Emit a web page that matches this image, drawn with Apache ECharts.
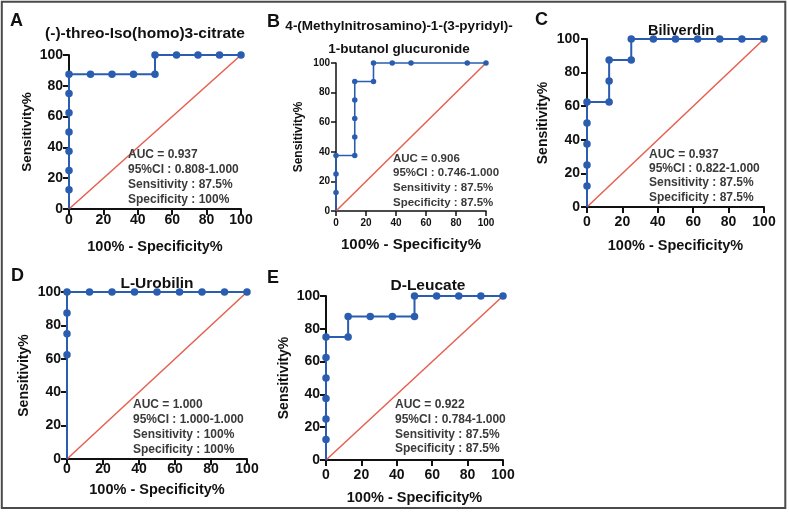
<!DOCTYPE html>
<html>
<head>
<meta charset="utf-8">
<script src="https://cdn.jsdelivr.net/npm/echarts@6/dist/echarts.min.js"></script>
<style>html,body{margin:0;padding:0;background:#fff}#c{width:789px;height:513px}</style>
</head>
<body>
<div id="c"></div>
<script>
// ---- data ----
const letters = ['A', 'B', 'C', 'D', 'E'];
const titles = ['(-)-threo-Iso(homo)3-citrate', '4-(Methylnitrosamino)-1-(3-pyridyl)-\n1-butanol glucuronide', 'Biliverdin', 'L-Urobilin', 'D-Leucate'];
const aucText = ['AUC = 0.937', 'AUC = 0.906', 'AUC = 0.937', 'AUC = 1.000', 'AUC = 0.922'];
const ciText = ['95%CI : 0.808-1.000', '95%CI : 0.746-1.000', '95%CI : 0.822-1.000', '95%CI : 1.000-1.000', '95%CI : 0.784-1.000'];
const sensText = ['Sensitivity : 87.5%', 'Sensitivity : 87.5%', 'Sensitivity : 87.5%', 'Sensitivity : 100%', 'Sensitivity : 87.5%'];
const specText = ['Specificity : 100%', 'Specificity : 87.5%', 'Specificity : 87.5%', 'Specificity : 100%', 'Specificity : 87.5%'];
const xName = '100% - Specificity%';
const yName = 'Sensitivity%';
const rocA = [[0,12.5],[0,25],[0,37.5],[0,50],[0,62.5],[0,75],[0,87.5],[12.5,87.5],[25,87.5],[37.5,87.5],[50,87.5],[50,100],[62.5,100],[75,100],[87.5,100],[100,100]];
const rocB = [[0,12.5],[0,25],[0,37.5],[12.5,37.5],[12.5,50],[12.5,62.5],[12.5,75],[12.5,87.5],[25,87.5],[25,100],[37.5,100],[50,100],[87.5,100],[100,100]];
const rocC = [[0,12.5],[0,25],[0,37.5],[0,50],[0,62.5],[12.5,62.5],[12.5,75],[12.5,87.5],[25,87.5],[25,100],[37.5,100],[50,100],[62.5,100],[75,100],[87.5,100],[100,100]];
const rocD = [[0,62.5],[0,75],[0,87.5],[0,100],[12.5,100],[25,100],[37.5,100],[50,100],[62.5,100],[75,100],[87.5,100],[100,100]];
const rocE = [[0,12.5],[0,25],[0,37.5],[0,50],[0,62.5],[0,75],[12.5,75],[12.5,87.5],[25,87.5],[37.5,87.5],[50,87.5],[50,100],[62.5,100],[75,100],[87.5,100],[100,100]];
const rocs = [rocA, rocB, rocC, rocD, rocE];
const diagonal = [[0,0],[100,100]];

// ---- layout ----
const FONT = '"Liberation Sans", Arial, sans-serif';
const panels = [
  {grid:{left:69, top:55, width:172, height:154}, tick:14, xm:4, ym:6, xGap:30, yGap:35, xNameSize:14.5, yNameSize:13.5,
   letter:[10,12], title:[145,24], titleSize:15.5, ann:[128,147.5], annSize:12, annLH:15, sym:7.5, lw:2},
  {grid:{left:336, top:63, width:150, height:148}, tick:10, xm:7, ym:6, xGap:26, yGap:31, xNameSize:15, yNameSize:12,
   letter:[267,13], title:[399,15], titleSize:13.5, titleLH:23, ann:[393,151], annSize:11.5, annLH:14.7, sym:5.5, lw:1.6},
  {grid:{left:587, top:39, width:177, height:168}, tick:14, xm:8, ym:7, xGap:31, yGap:37, xNameSize:14.5, yNameSize:14,
   letter:[535,11], title:[681,22], titleSize:14.5, ann:[649,147], annSize:12, annLH:14.4, sym:7.5, lw:2},
  {grid:{left:67, top:292, width:180, height:167}, tick:14, xm:3, ym:6, xGap:23, yGap:36, xNameSize:14.5, yNameSize:14,
   letter:[11,267], title:[157,274], titleSize:15.5, ann:[133,397.5], annSize:12, annLH:15, sym:7.5, lw:2},
  {grid:{left:326, top:296, width:177, height:164}, tick:14, xm:8, ym:6, xGap:30, yGap:35, xNameSize:14.5, yNameSize:14,
   letter:[267,269], title:[428,276], titleSize:15.5, ann:[395,397.5], annSize:12, annLH:14.7, sym:7.5, lw:2}
];

const BLUE = '#2a5db0';
const RED = '#e65f4f';
const grids = [], xAxes = [], yAxes = [], series = [], titleList = [];

panels.forEach((p, i) => {
  grids.push(Object.assign({containLabel:false}, p.grid));
  const axisCommon = {
    type:'value', min:0, max:100, interval:20, gridIndex:i,
    splitLine:{show:false},
    axisLine:{show:true, onZero:false, lineStyle:{color:'#111', width: i===1 ? 1.5 : 2}},
    axisTick:{show:true, length: i===1 ? 5 : 6, lineStyle:{color:'#111', width: i===1 ? 1.5 : 2}},
    nameLocation:'middle',
    nameTextStyle:{fontFamily:FONT, fontWeight:'bold', color:'#111'}
  };
  xAxes.push(Object.assign({}, axisCommon, {
    name:xName, nameGap:p.xGap,
    nameTextStyle:{fontFamily:FONT, fontWeight:'bold', color:'#111', fontSize:p.xNameSize},
    axisLabel:{margin:p.xm, fontFamily:FONT, fontWeight:'bold', fontSize:p.tick, color:'#111'}
  }));
  yAxes.push(Object.assign({}, axisCommon, {
    name:yName, nameGap:p.yGap, nameRotate:90,
    nameTextStyle:{fontFamily:FONT, fontWeight:'bold', color:'#111', fontSize:p.yNameSize},
    axisLabel:{margin:p.ym, fontFamily:FONT, fontWeight:'bold', fontSize:p.tick, color:'#111'}
  }));
  series.push({
    type:'line', xAxisIndex:i, yAxisIndex:i, data:diagonal, symbol:'none', clip:false,
    lineStyle:{color:RED, width:1.5}, silent:true, z:2
  });
  series.push({
    type:'line', xAxisIndex:i, yAxisIndex:i, data:[[0,0]].concat(rocs[i]), clip:false,
    symbol:(v, params) => params.dataIndex === 0 ? 'none' : 'circle',
    symbolSize:p.sym, showAllSymbol:true,
    itemStyle:{color:BLUE, borderWidth:0},
    lineStyle:{color:BLUE, width:p.lw}, z:3
  });
  titleList.push({text:letters[i], left:p.letter[0], top:p.letter[1], padding:0,
    textStyle:{fontFamily:FONT, fontWeight:'bold', fontSize:18, color:'#111'}});
  titleList.push({text:titles[i], left:p.title[0], top:p.title[1], padding:0, textAlign:'center',
    textStyle:{fontFamily:FONT, fontWeight:'bold', fontSize:p.titleSize, color:'#111', lineHeight:p.titleLH || p.titleSize*1.2, align:'center'}});
  titleList.push({text:[aucText[i], ciText[i], sensText[i], specText[i]].join('\n'), left:p.ann[0], top:p.ann[1], padding:0,
    textStyle:{fontFamily:FONT, fontWeight:'bold', fontSize:p.annSize, color:'#3a3a3a', lineHeight:p.annLH}});
});

const chart = echarts.init(document.getElementById('c'), null, {renderer:'canvas'});
chart.setOption({
  animation:false,
  backgroundColor:'#ffffff',
  title:titleList,
  grid:grids,
  xAxis:xAxes,
  yAxis:yAxes,
  series:series,
  graphic:[{type:'rect', shape:{x:1.8, y:1.8, width:783.5, height:506.2},
    style:{fill:'none', stroke:'#4a4a4a', lineWidth:2}, silent:true}]
});
</script>
</body>
</html>
